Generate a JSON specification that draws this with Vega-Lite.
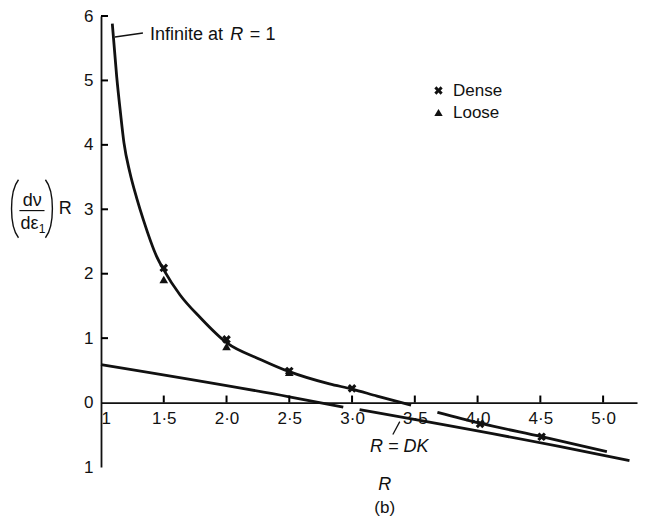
{
  "$schema": "https://vega.github.io/schema/vega-lite/v6.json",
  "width": 536,
  "height": 451,
  "autosize": {"type": "none"},
  "padding": {"left": 101, "top": 16, "right": 20, "bottom": 53},
  "background": "white",
  "config": {
    "view": {"stroke": null},
    "font": "Liberation Sans",
    "axis": {
      "grid": false,
      "ticks": false,
      "domainColor": "#111",
      "domainWidth": 1.8,
      "labelColor": "#111",
      "labelFont": "Liberation Sans",
      "labelFontSize": 17,
      "title": null
    },
    "legend": {"labelFont": "Liberation Sans", "labelFontSize": 17, "labelColor": "#111"}
  },
  "datasets": {
    "curves": [
      {"R": 1.09, "v": 5.88, "part": "c1"},
      {"R": 1.125, "v": 5.06, "part": "c1"},
      {"R": 1.155, "v": 4.5, "part": "c1"},
      {"R": 1.183, "v": 4.03, "part": "c1"},
      {"R": 1.23, "v": 3.57, "part": "c1"},
      {"R": 1.285, "v": 3.17, "part": "c1"},
      {"R": 1.337, "v": 2.84, "part": "c1"},
      {"R": 1.443, "v": 2.27, "part": "c1"},
      {"R": 1.5, "v": 2.06, "part": "c1"},
      {"R": 1.63, "v": 1.67, "part": "c1"},
      {"R": 1.79, "v": 1.32, "part": "c1"},
      {"R": 2.0, "v": 0.93, "part": "c1"},
      {"R": 2.27, "v": 0.67, "part": "c1"},
      {"R": 2.5, "v": 0.48, "part": "c1"},
      {"R": 2.82, "v": 0.29, "part": "c1"},
      {"R": 3.0, "v": 0.21, "part": "c1"},
      {"R": 3.2, "v": 0.1, "part": "c1"},
      {"R": 3.47, "v": -0.04, "part": "c1"},
      {"R": 3.68, "v": -0.15, "part": "c2"},
      {"R": 4.02, "v": -0.32, "part": "c2"},
      {"R": 4.51, "v": -0.53, "part": "c2"},
      {"R": 5.03, "v": -0.76, "part": "c2"},
      {"R": 1.0, "v": 0.59, "part": "d1"},
      {"R": 2.5, "v": 0.09, "part": "d1"},
      {"R": 2.93, "v": -0.07, "part": "d1"},
      {"R": 3.06, "v": -0.11, "part": "d2"},
      {"R": 4.65, "v": -0.68, "part": "d2"},
      {"R": 5.21, "v": -0.9, "part": "d2"}
    ],
    "tests": [
      {"R": 1.5, "v": 2.09, "sample": "Dense"},
      {"R": 2.0, "v": 0.98, "sample": "Dense"},
      {"R": 2.5, "v": 0.49, "sample": "Dense"},
      {"R": 3.0, "v": 0.22, "sample": "Dense"},
      {"R": 4.02, "v": -0.33, "sample": "Dense"},
      {"R": 4.51, "v": -0.53, "sample": "Dense"},
      {"R": 1.5, "v": 1.91, "sample": "Loose"},
      {"R": 2.0, "v": 0.87, "sample": "Loose"},
      {"R": 2.5, "v": 0.47, "sample": "Loose"}
    ],
    "rTicks": [{"R": 1.5}, {"R": 2.0}, {"R": 2.5}, {"R": 3.0}, {"R": 3.5}, {"R": 4.0}, {"R": 4.5}, {"R": 5.0}],
    "vTicks": [{"v": 1}, {"v": 2}, {"v": 3}, {"v": 4}, {"v": 5}, {"v": 6}]
  },
  "layer": [
    {
      "data": {"name": "curves"},
      "mark": {"type": "line", "color": "#111", "strokeWidth": 2.8, "interpolate": "monotone"},
      "encoding": {
        "x": {
          "field": "R",
          "type": "quantitative",
          "scale": {"domain": [1, 5.27], "nice": false, "zero": false},
          "axis": {
            "orient": "bottom",
            "offset": -64.43,
            "values": [1, 1.5, 2, 2.5, 3, 3.5, 4, 4.5, 5],
            "labelFlush": true,
            "labelPadding": 8,
            "labelExpr": "datum.value == 1 ? '1' : replace(format(datum.value, '.1f'), '.', '·')"
          }
        },
        "y": {
          "field": "v",
          "type": "quantitative",
          "scale": {"domain": [-1, 6], "nice": false, "zero": false},
          "axis": {
            "values": [-1, 0, 1, 2, 3, 4, 5, 6],
            "labelFlush": false,
            "labelPadding": 8,
            "labelExpr": "'' + abs(datum.value)"
          }
        },
        "detail": {"field": "part"}
      }
    },
    {
      "data": {"name": "rTicks"},
      "mark": {"type": "tick", "orient": "vertical", "color": "#000", "opacity": 1, "size": 7, "thickness": 2},
      "encoding": {
        "x": {"field": "R", "type": "quantitative"},
        "y": {"datum": 0.055}
      }
    },
    {
      "data": {"name": "vTicks"},
      "mark": {"type": "tick", "orient": "horizontal", "color": "#000", "opacity": 1, "size": 7, "thickness": 2},
      "encoding": {
        "y": {"field": "v", "type": "quantitative"},
        "x": {"datum": 1.028}
      }
    },
    {
      "data": {"name": "tests"},
      "mark": {"type": "point", "filled": true, "color": "#111", "opacity": 1, "size": 75},
      "encoding": {
        "x": {"field": "R", "type": "quantitative"},
        "y": {"field": "v", "type": "quantitative"},
        "shape": {
          "field": "sample",
          "type": "nominal",
          "scale": {
            "domain": ["Dense", "Loose"],
            "range": ["M-1,-0.5L-0.5,-1L0,-0.5L0.5,-1L1,-0.5L0.5,0L1,0.5L0.5,1L0,0.5L-0.5,1L-1,0.5L-0.5,0Z", "triangle-up"]
          },
          "legend": {
            "title": null,
            "orient": "none",
            "legendX": 329,
            "legendY": 66,
            "symbolFillColor": "#111",
            "symbolStrokeColor": "#111",
            "symbolSize": 70,
            "labelOffset": 6,
            "rowPadding": 4
          }
        }
      }
    },
    {
      "data": {"values": [{}]},
      "mark": {"type": "rule", "color": "#111", "strokeWidth": 1.3},
      "encoding": {"x": {"datum": 1.111}, "x2": {"datum": 1.334}, "y": {"datum": 5.674}, "y2": {"datum": 5.736}}
    },
    {
      "data": {"values": [{}]},
      "mark": {"type": "text", "text": "Infinite at", "align": "left", "baseline": "middle", "fontSize": 18, "color": "#111"},
      "encoding": {"x": {"datum": 1.39}, "y": {"datum": 5.71}}
    },
    {
      "data": {"values": [{}]},
      "mark": {"type": "text", "text": "R", "fontStyle": "italic", "align": "left", "baseline": "middle", "fontSize": 18, "color": "#111"},
      "encoding": {"x": {"datum": 2.03}, "y": {"datum": 5.71}}
    },
    {
      "data": {"values": [{}]},
      "mark": {"type": "text", "text": "=  1", "align": "left", "baseline": "middle", "fontSize": 18, "color": "#111"},
      "encoding": {"x": {"datum": 2.186}, "y": {"datum": 5.71}}
    },
    {
      "data": {"values": [{}]},
      "mark": {"type": "rule", "color": "#111", "strokeWidth": 1.3},
      "encoding": {"x": {"datum": 3.325}, "x2": {"datum": 3.38}, "y": {"datum": -0.496}, "y2": {"datum": -0.295}}
    },
    {
      "data": {"values": [{}]},
      "mark": {"type": "text", "text": "R = DK", "fontStyle": "italic", "align": "center", "baseline": "middle", "fontSize": 18, "color": "#111"},
      "encoding": {"x": {"datum": 3.377}, "y": {"datum": -0.682}}
    },
    {
      "data": {"values": [{}]},
      "mark": {"type": "text", "text": "R", "fontStyle": "italic", "align": "center", "baseline": "middle", "fontSize": 18, "color": "#111"},
      "encoding": {"x": {"datum": 3.26}, "y": {"datum": -1.287}}
    },
    {
      "data": {"values": [{}]},
      "mark": {"type": "text", "text": "(b)", "align": "center", "baseline": "middle", "fontSize": 17, "color": "#111"},
      "encoding": {"x": {"datum": 3.26}, "y": {"datum": -1.643}}
    },
    {
      "data": {"values": [{}]},
      "mark": {"type": "point", "shape": "M0.12,-1C-0.2,-0.6,-0.2,0.6,0.12,1", "filled": false, "stroke": "#111", "strokeWidth": 1.4, "opacity": 1, "size": 3364},
      "encoding": {"x": {"datum": 0.315}, "y": {"datum": 3.008}}
    },
    {
      "data": {"values": [{}]},
      "mark": {"type": "point", "shape": "M-0.12,-1C0.2,-0.6,0.2,0.6,-0.12,1", "filled": false, "stroke": "#111", "strokeWidth": 1.4, "opacity": 1, "size": 3364},
      "encoding": {"x": {"datum": 0.585}, "y": {"datum": 3.008}}
    },
    {
      "data": {"values": [{}]},
      "mark": {"type": "rule", "color": "#111", "strokeWidth": 1.2},
      "encoding": {"x": {"datum": 0.35}, "x2": {"datum": 0.55}, "y": {"datum": 2.98}}
    },
    {
      "data": {"values": [{}]},
      "mark": {"type": "text", "text": "dν", "align": "center", "baseline": "alphabetic", "fontSize": 18, "color": "#111"},
      "encoding": {"x": {"datum": 0.452}, "y": {"datum": 3.054}}
    },
    {
      "data": {"values": [{}]},
      "mark": {"type": "text", "text": "dε", "align": "center", "baseline": "alphabetic", "fontSize": 18, "color": "#111"},
      "encoding": {"x": {"datum": 0.43}, "y": {"datum": 2.69}}
    },
    {
      "data": {"values": [{}]},
      "mark": {"type": "text", "text": "1", "align": "center", "baseline": "alphabetic", "fontSize": 12, "color": "#111"},
      "encoding": {"x": {"datum": 0.53}, "y": {"datum": 2.63}}
    },
    {
      "data": {"values": [{}]},
      "mark": {"type": "text", "text": "R", "align": "center", "baseline": "middle", "fontSize": 18, "color": "#111"},
      "encoding": {"x": {"datum": 0.715}, "y": {"datum": 3.008}}
    }
  ]
}
